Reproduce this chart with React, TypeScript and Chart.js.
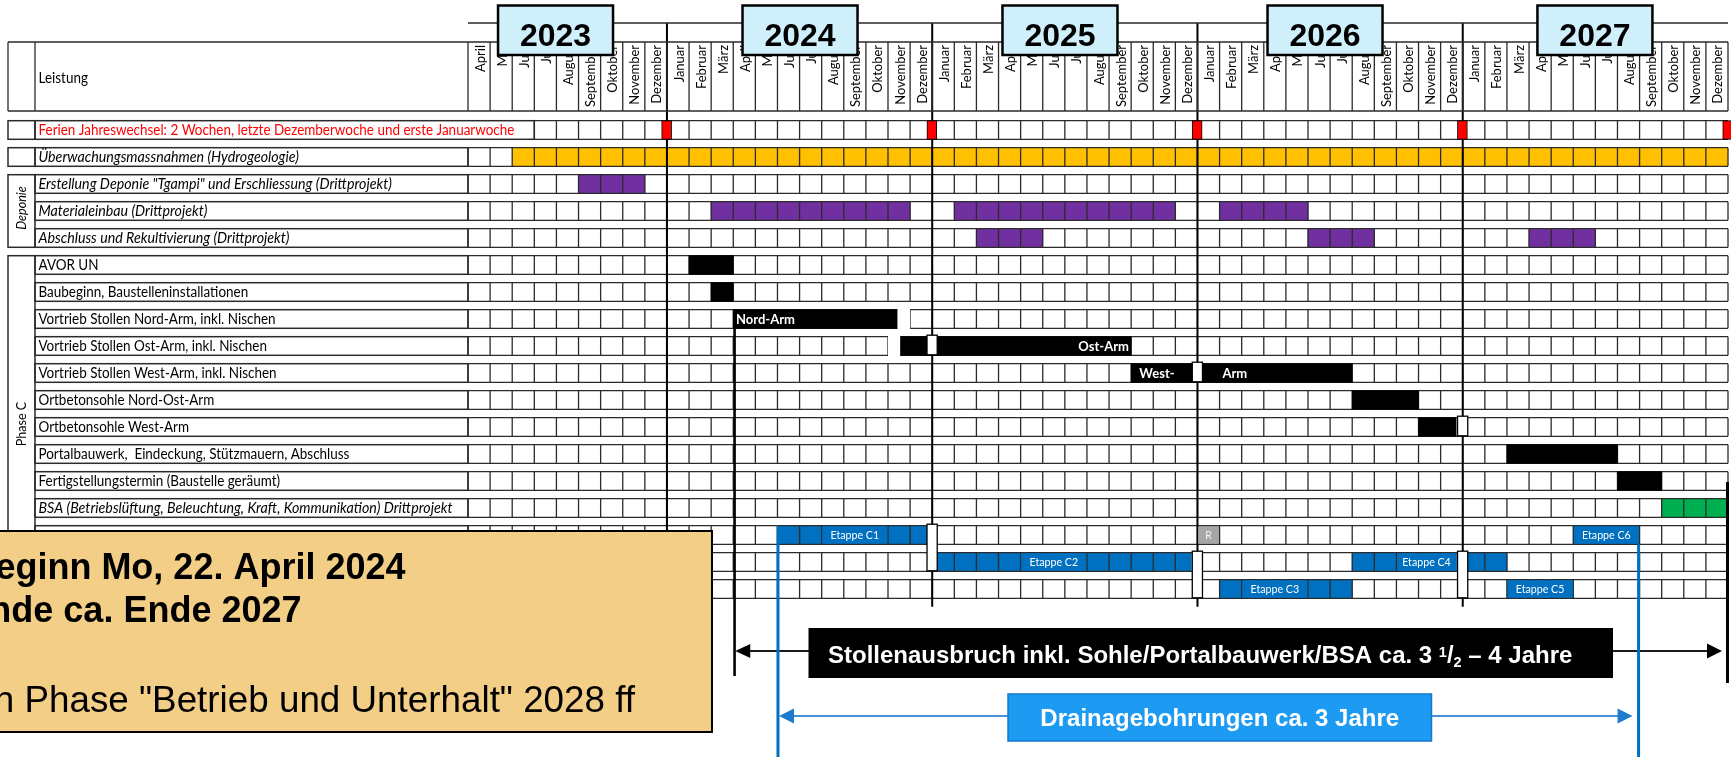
import React, { useEffect, useRef } from 'react';
import { Chart, registerables } from 'chart.js';

Chart.register(...registerables);

// ---------------- data ----------------
const MONTH_NAMES = ['Januar', 'Februar', 'März', 'April', 'Mai', 'Juni', 'Juli', 'August', 'September', 'Oktober', 'November', 'Dezember'];
// April 2023 – Dezember 2027 (57 months, index 0 = April 2023)
const MONTH_LABELS = [...MONTH_NAMES.slice(3), ...MONTH_NAMES, ...MONTH_NAMES, ...MONTH_NAMES, ...MONTH_NAMES];
const YEARS = ['2023', '2024', '2025', '2026', '2027'];
const YEAR_STARTS = [9, 21, 33, 45]; // month index where a new year begins

const ROW_LABELS = [
  'Ferien Jahreswechsel: 2 Wochen, letzte Dezemberwoche und erste Januarwoche',
  'Überwachungsmassnahmen (Hydrogeologie)',
  'Erstellung Deponie "Tgampi" und Erschliessung (Drittprojekt)',
  'Materialeinbau (Drittprojekt)',
  'Abschluss und Rekultivierung (Drittprojekt)',
  'AVOR UN',
  'Baubeginn, Baustelleninstallationen',
  'Vortrieb Stollen Nord-Arm, inkl. Nischen',
  'Vortrieb Stollen Ost-Arm, inkl. Nischen',
  'Vortrieb Stollen West-Arm, inkl. Nischen',
  'Ortbetonsohle Nord-Ost-Arm',
  'Ortbetonsohle West-Arm',
  'Portalbauwerk,  Eindeckung, Stützmauern, Abschluss',
  'Fertigstellungstermin (Baustelle geräumt)',
  'BSA (Betriebslüftung, Beleuchtung, Kraft, Kommunikation) Drittprojekt',
  'Drainage Etappen C1 / C6',
  'Drainage Etappen C2 / C4',
  'Drainage Etappen C3 / C5',
];
const ITALIC_ROWS = [1, 2, 3, 4, 14];
const HIDDEN_TEXT_ROWS = [15, 16, 17];
const ROW_GROUPS = [
  { label: 'Deponie', from: 2, to: 4, italic: true },
  { label: 'Phase C', from: 5, to: 17, italic: false },
];

// [row, startMonth, endMonth]
const FERIEN_MARKS = [[0, 8.76, 9.21], [0, 20.76, 21.21], [0, 32.76, 33.21], [0, 44.76, 45.21], [0, 56.76, 57.21]];
const MONITORING = [[1, 2, 57]];
const DEPONIE_WORK = [[2, 5, 8], [3, 11, 20], [3, 22, 32], [3, 34, 38], [4, 23, 26], [4, 38, 41], [4, 48, 51]];
const CONSTRUCTION = [[5, 10, 12], [6, 11, 12], [7, 12, 19.43], [8, 19.55, 30], [9, 30, 40], [10, 40, 43], [11, 43, 44.7], [12, 47, 52], [13, 52, 54]];
const BSA_WORK = [[14, 54, 57]];
const DRAINAGE = [[15, 14, 20.75], [15, 50, 53], [16, 21.22, 32.72], [16, 40, 44.72], [16, 45.2, 47], [17, 34, 40], [17, 47, 50]];
const RESERVE = [[15, 33, 34]];

// holiday interruptions: [firstRow, lastRow, yearStartMonth]
const HOLIDAY_GAPS = [[8, 8, 21], [9, 9, 33], [11, 11, 45], [15, 16, 21], [16, 17, 33], [16, 17, 45]];
// empty (unbordered) stretches: [row, start, end]
const BLANKS = [[7, 19.43, 20], [8, 19, 19.55]];

const BAR_TEXTS = [
  { row: 7, text: 'Nord-Arm', at: 12.12, align: 'left' },
  { row: 8, text: 'Ost-Arm', at: 29.9, align: 'right' },
  { row: 9, text: 'West-', at: 30.37, align: 'left' },
  { row: 9, text: 'Arm', at: 34.13, align: 'left' },
];
const ETAPPE_TEXTS = [
  { row: 15, text: 'Etappe C1', from: 16, to: 19, reserve: false },
  { row: 15, text: 'R', from: 33, to: 34, reserve: true },
  { row: 15, text: 'Etappe C6', from: 50, to: 53, reserve: false },
  { row: 16, text: 'Etappe C2', from: 25, to: 28, reserve: false },
  { row: 16, text: 'Etappe C4', from: 42, to: 44.72, reserve: false },
  { row: 17, text: 'Etappe C3', from: 35, to: 38, reserve: false },
  { row: 17, text: 'Etappe C5', from: 47, to: 50, reserve: false },
];

const SPAN_CONSTRUCTION = { from: 12, to: 57 };
const SPAN_DRAINAGE = { from: 14, to: 53, text: 'Drainagebohrungen ca. 3 Jahre' };
const CONSTRUCTION_TEXT = ['Stollenausbruch inkl. Sohle/Portalbauwerk/BSA ca. 3 ', '1', '/', '2', ' – 4 Jahre'];
const NOTE_LINES = ['Baubeginn Mo, 22. April 2024', 'Bauende ca. Ende 2027', 'Übergang in Phase "Betrieb und Unterhalt" 2028 ff'];

// ---------------- drawing helpers ----------------
const CAL = 'Lato, "Open Sans", sans-serif';
const ARIAL = '"Liberation Sans", Arial, sans-serif';
const ROW_H = 18.6;
const GRID = '#2b2b2b';

function measure(ctx: any, s: string, font: string) {
  ctx.save();
  ctx.font = font;
  const w = ctx.measureText(s).width;
  ctx.restore();
  return w;
}
function txt(ctx: any, s: string, x: number, y: number, font: string, color: string, align = 'left', sq = 1, baseline = 'middle', rot = 0) {
  ctx.save();
  ctx.font = font;
  ctx.fillStyle = color;
  ctx.textAlign = align;
  ctx.textBaseline = baseline;
  ctx.translate(x, y);
  if (rot) ctx.rotate(rot);
  ctx.scale(sq, 1);
  ctx.fillText(s, 0, 0);
  ctx.restore();
}
function arrowHead(ctx: any, tipX: number, y: number, dir: number, len: number, half: number, color: string) {
  ctx.beginPath();
  ctx.moveTo(tipX, y);
  ctx.lineTo(tipX - dir * len, y - half);
  ctx.lineTo(tipX - dir * len, y + half);
  ctx.closePath();
  ctx.fillStyle = color;
  ctx.fill();
}

function helpers(chart: any) {
  const xs = chart.scales.x;
  const ys = chart.scales.y;
  const px = (v: number) => xs.getPixelForValue(v);
  const top = (r: number) => ys.getPixelForValue(r) - ROW_H / 2;
  const bot = (r: number) => ys.getPixelForValue(r) + ROW_H / 2;
  const mid = (r: number) => ys.getPixelForValue(r);
  return { px, top, bot, mid };
}

const YEAR_LINE_Y = 23;
const HDR_TOP = 42;
const HDR_BOT = 111;
const LEFT = 8;
const LABEL_X = 35;

function drawGridAndYearLines(chart: any) {
  const ctx = chart.ctx;
  const { px, top, bot } = helpers(chart);
  ctx.save();
  ctx.strokeStyle = GRID;
  ctx.lineWidth = 1.3;
  ctx.beginPath();
  for (let r = 0; r < ROW_LABELS.length; r++) {
    const m0 = r === 0 ? 3 : 0;
    const x0 = px(m0), x1 = px(MONTH_LABELS.length);
    const t = top(r), b = bot(r);
    ctx.moveTo(x0, t); ctx.lineTo(x1, t);
    ctx.moveTo(x0, b); ctx.lineTo(x1, b);
    for (let m = m0; m <= MONTH_LABELS.length; m++) {
      ctx.moveTo(px(m), t); ctx.lineTo(px(m), b);
    }
  }
  ctx.stroke();
  // year separators
  ctx.strokeStyle = '#000';
  ctx.lineWidth = 2;
  ctx.beginPath();
  YEAR_STARTS.forEach((m) => {
    ctx.moveTo(px(m), YEAR_LINE_Y);
    ctx.lineTo(px(m), bot(ROW_LABELS.length - 1) + 8.5);
  });
  ctx.stroke();
  ctx.restore();
}

function drawOverlay(chart: any) {
  const ctx = chart.ctx;
  const { px, top, bot, mid } = helpers(chart);
  const NM = MONTH_LABELS.length;
  ctx.save();

  // blank stretches
  ctx.fillStyle = '#fff';
  BLANKS.forEach(([r, s, e]) => ctx.fillRect(px(s), top(r) - 1, px(e) - px(s), ROW_H + 2));

  // bar texts
  const boldSq = 59 / measure(ctx, 'Nord-Arm', `bold 14px ${CAL}`);
  BAR_TEXTS.forEach((b) => txt(ctx, b.text, px(b.at), mid(b.row) + 0.5, `bold 14px ${CAL}`, '#fff', b.align, boldSq));

  const etSq = 48.6 / measure(ctx, 'Etappe C1', `11.5px ${CAL}`);
  ETAPPE_TEXTS.forEach((e) => {
    ctx.fillStyle = e.reserve ? '#A6A6A6' : '#0070C0';
    ctx.fillRect(px(e.from) + 0.7, top(e.row) + 0.7, px(e.to) - px(e.from) - 1.4, ROW_H - 1.4);
    txt(ctx, e.text, (px(e.from) + px(e.to)) / 2, mid(e.row) + 0.5, `11.5px ${CAL}`, e.reserve ? '#f2f2f2' : '#fff', 'center', etSq);
  });

  // holiday interruptions
  HOLIDAY_GAPS.forEach(([r0, r1, m]) => {
    const x0 = px(m) - 5.2, x1 = px(m) + 5;
    const y0 = top(r0) - 1.5, y1 = bot(r1) - 0.5;
    ctx.fillStyle = '#fff';
    ctx.fillRect(x0, y0, x1 - x0, y1 - y0);
    ctx.strokeStyle = '#000';
    ctx.lineWidth = 1.3;
    ctx.strokeRect(x0, y0, x1 - x0, y1 - y0);
  });

  // ---- header ----
  ctx.strokeStyle = GRID;
  ctx.lineWidth = 1.3;
  ctx.beginPath();
  ctx.moveTo(LEFT, HDR_TOP); ctx.lineTo(px(NM), HDR_TOP);
  ctx.moveTo(LEFT, HDR_BOT); ctx.lineTo(px(NM), HDR_BOT);
  ctx.moveTo(LEFT, HDR_TOP); ctx.lineTo(LEFT, HDR_BOT);
  ctx.moveTo(LABEL_X, HDR_TOP); ctx.lineTo(LABEL_X, HDR_BOT);
  for (let m = 0; m <= NM; m++) { ctx.moveTo(px(m), HDR_TOP); ctx.lineTo(px(m), HDR_BOT); }
  ctx.moveTo(px(0), YEAR_LINE_Y); ctx.lineTo(px(NM), YEAR_LINE_Y);
  ctx.stroke();
  const monSq = 62 / measure(ctx, 'September', `14px ${CAL}`);
  MONTH_LABELS.forEach((name, m) => {
    const cx = (px(m) + px(m + 1)) / 2 + 1;
    txt(ctx, name, cx, HDR_TOP + 3, `14px ${CAL}`, '#000', 'right', monSq, 'middle', -Math.PI / 2);
  });
  const labSq = 237 / measure(ctx, ROW_LABELS[7], `14.5px ${CAL}`);
  const itSq = 414 / measure(ctx, ROW_LABELS[14], `italic 14.5px ${CAL}`);
  txt(ctx, 'Leistung', LABEL_X + 3.5, 78, `14.5px ${CAL}`, '#000', 'left', labSq);

  // ---- label column ----
  ctx.strokeStyle = GRID;
  ctx.lineWidth = 1.5;
  ROW_LABELS.forEach((label, r) => {
    const xr = r === 0 ? px(3) : px(0);
    ctx.strokeRect(LABEL_X, top(r), xr - LABEL_X, ROW_H);
    if (r <= 1) ctx.strokeRect(LEFT, top(r), LABEL_X - LEFT, ROW_H);
    if (HIDDEN_TEXT_ROWS.includes(r)) return;
    const italic = ITALIC_ROWS.includes(r);
    txt(ctx, label, LABEL_X + 3.5, mid(r) + 0.5, `${italic ? 'italic ' : ''}14.5px ${CAL}`, r === 0 ? '#FF0000' : '#000', 'left', italic ? itSq : labSq);
  });
  ROW_GROUPS.forEach((g) => {
    const y0 = top(g.from), y1 = bot(g.to);
    ctx.strokeStyle = GRID;
    ctx.lineWidth = 1.5;
    ctx.strokeRect(LEFT, y0, LABEL_X - LEFT, y1 - y0);
    txt(ctx, g.label, (LEFT + LABEL_X) / 2, (y0 + y1) / 2 - 3, `${g.italic ? 'italic ' : ''}13.5px ${CAL}`, '#000', 'center', labSq, 'middle', -Math.PI / 2);
  });

  // ---- span marker lines ----
  ctx.strokeStyle = '#000';
  ctx.lineWidth = 2.6;
  ctx.beginPath();
  ctx.moveTo(px(SPAN_CONSTRUCTION.from) + 1.3, top(7));
  ctx.lineTo(px(SPAN_CONSTRUCTION.from) + 1.3, 676);
  ctx.stroke();
  ctx.lineWidth = 3;
  ctx.beginPath();
  ctx.moveTo(px(SPAN_CONSTRUCTION.to) - 0.5, 482);
  ctx.lineTo(px(SPAN_CONSTRUCTION.to) - 0.5, 683);
  ctx.stroke();

  // ---- year boxes ----
  const YEAR_CENTERS = [3.96, 15.02, 26.78, 38.77, 50.98];
  YEARS.forEach((y, i) => {
    const cx = px(YEAR_CENTERS[i]);
    ctx.fillStyle = '#CFEFFA';
    ctx.fillRect(cx - 57.5, 5.5, 115, 49.5);
    ctx.strokeStyle = '#000';
    ctx.lineWidth = 2.5;
    ctx.strokeRect(cx - 57.5, 5.5, 115, 49.5);
    txt(ctx, y, cx, 46, `bold 32px ${ARIAL}`, '#000', 'center', 1, 'alphabetic');
  });

  // ---- note box ----
  ctx.fillStyle = '#F3CE87';
  ctx.fillRect(-10, 531, 722, 201);
  ctx.strokeStyle = '#000';
  ctx.lineWidth = 2;
  ctx.strokeRect(-10, 531, 722, 201);
  txt(ctx, NOTE_LINES[0], 405.5, 579, `bold 36px ${ARIAL}`, '#000', 'right', 1, 'alphabetic');
  txt(ctx, NOTE_LINES[1], 301.5, 622, `bold 36px ${ARIAL}`, '#000', 'right', 1, 'alphabetic');
  txt(ctx, NOTE_LINES[2], 635, 711.5, `36.8px ${ARIAL}`, '#000', 'right', 1, 'alphabetic');

  // ---- construction span arrow ----
  const ay = 651;
  const aL = px(SPAN_CONSTRUCTION.from) + 2, aR = px(SPAN_CONSTRUCTION.to) - 6;
  ctx.strokeStyle = '#1a1a1a';
  ctx.lineWidth = 2;
  ctx.beginPath();
  ctx.moveTo(aL + 10, ay); ctx.lineTo(aR - 10, ay);
  ctx.stroke();
  arrowHead(ctx, aL, ay, -1, 15, 7, '#000');
  arrowHead(ctx, aR, ay, 1, 15, 7.5, '#000');
  ctx.fillStyle = '#000';
  ctx.fillRect(808.5, 628, 804.5, 50);
  let tx = 828;
  const base = 663;
  const F24 = `bold 24px ${ARIAL}`, F14 = `bold 14.5px ${ARIAL}`;
  txt(ctx, CONSTRUCTION_TEXT[0], tx, base, F24, '#fff', 'left', 1, 'alphabetic'); tx += measure(ctx, CONSTRUCTION_TEXT[0], F24);
  txt(ctx, CONSTRUCTION_TEXT[1], tx, base - 6.5, F14, '#fff', 'left', 1, 'alphabetic'); tx += measure(ctx, CONSTRUCTION_TEXT[1], F14);
  txt(ctx, CONSTRUCTION_TEXT[2], tx, base, F24, '#fff', 'left', 1, 'alphabetic'); tx += measure(ctx, CONSTRUCTION_TEXT[2], F24);
  txt(ctx, CONSTRUCTION_TEXT[3], tx, base + 4, F14, '#fff', 'left', 1, 'alphabetic'); tx += measure(ctx, CONSTRUCTION_TEXT[3], F14);
  txt(ctx, CONSTRUCTION_TEXT[4], tx, base, F24, '#fff', 'left', 1, 'alphabetic');

  // ---- drainage span ----
  ctx.strokeStyle = '#0070C0';
  ctx.lineWidth = 3;
  ctx.beginPath();
  ctx.moveTo(px(SPAN_DRAINAGE.from) + 0.5, top(15));
  ctx.lineTo(px(SPAN_DRAINAGE.from) + 0.5, 760);
  ctx.moveTo(px(SPAN_DRAINAGE.to) - 1, bot(15));
  ctx.lineTo(px(SPAN_DRAINAGE.to) - 1, 760);
  ctx.stroke();
  const by = 716;
  const bL = px(SPAN_DRAINAGE.from) + 1.5, bR = px(SPAN_DRAINAGE.to) - 7;
  ctx.strokeStyle = '#4A92D8';
  ctx.lineWidth = 2;
  ctx.beginPath();
  ctx.moveTo(bL + 10, by); ctx.lineTo(bR - 10, by);
  ctx.stroke();
  arrowHead(ctx, bL, by, -1, 15, 7.5, '#1F7BD0');
  arrowHead(ctx, bR, by, 1, 15, 7.5, '#1F7BD0');
  ctx.fillStyle = '#1D9BF3';
  ctx.fillRect(1008, 694, 423.5, 47);
  ctx.strokeStyle = '#1478CC';
  ctx.lineWidth = 1.5;
  ctx.strokeRect(1008, 694, 423.5, 47);
  txt(ctx, SPAN_DRAINAGE.text, 1219.75, 726, F24, '#fff', 'center', 1, 'alphabetic');

  ctx.restore();
}

// datasets are painted from the last index to the first: the grid is painted
// just before the black construction bars (index 1), so those stay solid.
const ganttPlugin = {
  id: 'ganttDecor',
  beforeDatasetDraw(chart: any, args: any) {
    if (args.index === 1) drawGridAndYearLines(chart);
  },
  afterDatasetsDraw(chart: any) {
    drawOverlay(chart);
  },
};

const toData = (arr: number[][]) => arr.map(([r, s, e]) => ({ x: [s, e], y: ROW_LABELS[r] }));

export default function App() {
  const ref = useRef<HTMLCanvasElement>(null);
  useEffect(() => {
    document.body.style.margin = '0';
    const chart = new Chart(ref.current as HTMLCanvasElement, {
      type: 'bar',
      data: {
        labels: ROW_LABELS,
        datasets: [
          { label: 'Ferien', data: toData(FERIEN_MARKS), backgroundColor: '#FF0000', borderColor: '#000', borderWidth: 1, borderSkipped: false, clip: 6 },
          { label: 'Bau', data: toData(CONSTRUCTION), backgroundColor: '#000000' },
          { label: 'Überwachung', data: toData(MONITORING), backgroundColor: '#FFC000' },
          { label: 'Deponie', data: toData(DEPONIE_WORK), backgroundColor: '#7030A0' },
          { label: 'BSA', data: toData(BSA_WORK), backgroundColor: '#00B050' },
          { label: 'Drainage', data: toData(DRAINAGE), backgroundColor: '#0070C0' },
          { label: 'Reserve', data: toData(RESERVE), backgroundColor: '#A6A6A6' },
        ] as any,
      },
      options: {
        animation: false,
        responsive: false,
        devicePixelRatio: 1,
        indexAxis: 'y',
        layout: { padding: { left: 468, right: 3, top: 116.5, bottom: 154.5 } },
        datasets: { bar: { grouped: false, barThickness: ROW_H, borderWidth: 0 } as any },
        scales: {
          x: { type: 'linear', min: 0, max: MONTH_LABELS.length, display: false },
          y: { type: 'category', display: false, offset: true },
        },
        plugins: { legend: { display: false }, tooltip: { enabled: false } },
        events: [],
      } as any,
      plugins: [ganttPlugin],
    });
    return () => chart.destroy();
  }, []);
  return <canvas ref={ref} width={1731} height={757} style={{ display: 'block' }} />;
}
